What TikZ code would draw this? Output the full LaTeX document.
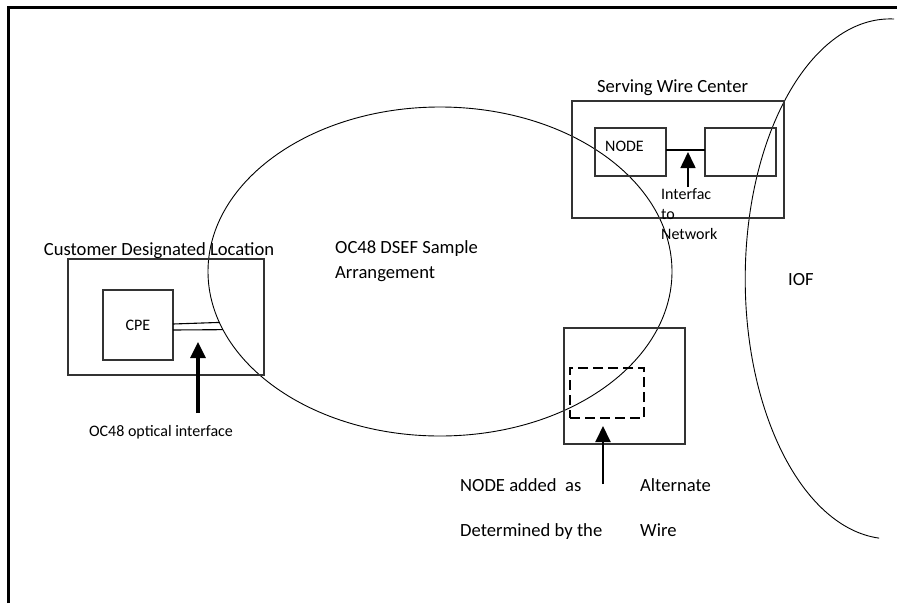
\documentclass[tikz,border=0pt]{standalone}
\usepackage{fontspec}
\setmainfont{Carlito}
\usetikzlibrary{shapes.geometric,arrows.meta,positioning}

\tikzset{
  box/.style={draw=black!80,line width=1.2pt,inner sep=0pt,outer sep=0pt},
  oval/.style={draw,ellipse,line width=0.9pt,inner sep=0pt,outer sep=0pt},
  dashbox/.style={draw,line width=2.6pt,dash pattern=on 10pt off 5pt,inner sep=0pt},
  bigtext/.style={font=\fontsize{18.6}{22}\selectfont,inner sep=0pt},
  smalltext/.style={font=\fontsize{16}{20}\selectfont,inner sep=0pt},
}

\begin{document}
\begin{tikzpicture}[x=1pt,y=-1pt,>={Triangle[length=16pt,width=15pt]}]
    \useasboundingbox (0,0) rectangle (897,603);
    \draw[line width=3pt] (8,603) -- (8,7) -- (897,7);
    \node[oval,minimum width=464,minimum height=329] at (440,271.5) (dsef) {};
    \draw[line width=0.9pt] (894,19) arc[start angle=88.5,end angle=265.6,x radius=145pt,y radius=260pt];
    \node[box,minimum width=196,minimum height=116] at (166,317) (cdl) {};
    \node[box,smalltext,minimum width=70,minimum height=70] at (138,325) (cpe) {CPE};
    \node[box,minimum width=212,minimum height=117] at (678,159.5) (swc) {};
    \node[box,minimum width=71,minimum height=48] at (630.5,152) (swcNode) {};
    \node[box,minimum width=71,minimum height=48] at (740.5,152) (swcPort) {};
    \node[box,minimum width=121,minimum height=116] at (624.5,386) (alt) {};
    \node[dashbox,minimum width=74,minimum height=50] at (607,393) (altNode) {};
    \node[bigtext,anchor=base] at (159,255.5) (cdlText) {Customer Designated Location};
    \node[bigtext,anchor=base west] at (335,253.5) (dsefA) {OC48 DSEF Sample};
    \node[bigtext,anchor=base west] at (335,278) (dsefB) {Arrangement};
    \node[bigtext,anchor=base] at (672.5,92) (swcText) {Serving Wire Center};
    \node[bigtext,anchor=base west] at (788,285) (iofText) {IOF};
    \node[smalltext,anchor=base west] at (605,151) (nodeText) {NODE};
    \node[smalltext,anchor=base west] at (661,199.5) (ifA) {Interfac};
    \node[smalltext,anchor=base west] at (661,219) (ifB) {to};
    \node[smalltext,anchor=base west] at (661,239) (ifC) {Network};
    \node[smalltext,anchor=base] at (161,436.5) (ocText) {OC48 optical interface};
    \node[bigtext,anchor=base west] at (460,491) (addA) {NODE added\ \ as};
    \node[bigtext,anchor=base west] at (460,536) (addB) {Determined by the};
    \node[bigtext,anchor=base west] at (640,491) (altA) {Alternate};
    \node[bigtext,anchor=base west] at (640,536) (altB) {Wire};
    \coordinate (ocTail) at (198,413);
    \coordinate (ocTip) at (198,342);
    \coordinate (ifTail) at (688,187);
    \coordinate (ifTip) at (688,152);
    \coordinate (altTail) at (603,484);
    \coordinate (altTip) at (603,426);
    \path[line width=1.1pt]
    ([yshift=1pt]cpe.east) edge (dsef.193)
    ([yshift=-5pt]cpe.east) edge (dsef.195)
    ([yshift=2pt]swcNode.east) edge ([yshift=2pt]swcPort.west)
    ;
    \path[->]
    (ocTail) edge[line width=3.2pt] (ocTip)
    (ifTail) edge[line width=1.6pt] (ifTip)
    (altTail) edge[line width=2pt] (altTip)
    ;
\end{tikzpicture}
\end{document}
